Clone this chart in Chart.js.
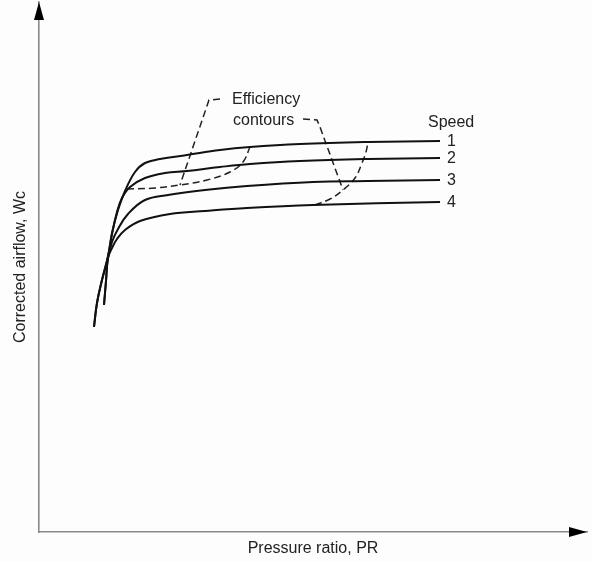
<!DOCTYPE html>
<html>
<head>
<meta charset="utf-8">
<script src="https://cdn.jsdelivr.net/npm/chart.js@4"></script>
<style>
  body { margin: 0; background: #fdfdfd; }
  #wrap { width: 592px; height: 562px; }
</style>
</head>
<body>
<div id="wrap"><canvas id="myChart"></canvas></div>
<script>
// speed lines (pressure ratio, corrected airflow) - schematic units
const speed1X = [11, 11.6, 12.6, 13.8, 14.6, 15.8, 17.2, 19.2, 21.2, 24.2, 29.6, 36.2, 42.2, 52.2, 65.8, 80.2];
const speed1Y = [41, 45.8, 50.4, 55, 59.8, 64.4, 68.2, 72, 73.8, 74.6, 75.4, 76.4, 77, 77.6, 78, 78.2];
const speed2X = [11, 11.6, 12.6, 13.8, 14.6, 15.6, 16.6, 18.2, 21.2, 25.2, 29.6, 36.2, 42.2, 52.2, 65.8, 80.2];
const speed2Y = [41, 45.8, 50.4, 55.2, 59.6, 64, 66.8, 69, 70.8, 71.8, 72.2, 73, 73.6, 74.2, 74.6, 74.8];
const speed3X = [13, 13.4, 13.8, 14.6, 15.8, 17.8, 21.2, 25.8, 33.2, 41.6, 54.8, 65.8, 80.2];
const speed3Y = [45.4, 50.2, 54.8, 58, 60.6, 63.6, 66.4, 67.4, 68.4, 69.2, 70, 70.2, 70.4];
const speed4X = [13, 13.4, 13.8, 14.6, 15.6, 17.2, 20.2, 26.2, 33.2, 41.6, 54.8, 80.2];
const speed4Y = [45.4, 50.2, 54.8, 56.8, 58.6, 60.4, 62.2, 63.6, 64.2, 64.8, 65.4, 66];

// efficiency contours and their leader lines
const contourAX = [17.6, 23.2, 28.2, 33.6, 38.2, 40.8, 42.2];
const contourAY = [68.6, 68.8, 69.4, 70.4, 72, 74, 77];
const contourBX = [55.2, 58.2, 60.8, 63.2, 64.6, 65.4, 65.8];
const contourBY = [65.4, 66.6, 68.4, 70.8, 73.8, 76, 78];
const leaderAX = [36.2, 34, 28.2];
const leaderAY = [86.6, 86.4, 69.4];
const leaderBX = [52.8, 55.6, 56.2, 60.8];
const leaderBY = [82.6, 82.4, 81, 68.4];

const speedNames = ["1", "2", "3", "4"];
const notes = [
  { text: "Efficiency", x: 38.6, y: 85.6 },
  { text: "contours", x: 38.8, y: 81.4 },
  { text: "Speed", x: 77.8, y: 81 }
];

function pts(xs, ys) {
  return xs.map((x, i) => ({ x: x, y: ys[i] }));
}

const speeds = [
  pts(speed1X, speed1Y),
  pts(speed2X, speed2Y),
  pts(speed3X, speed3Y),
  pts(speed4X, speed4Y)
];

let datasets = speeds.map((d, i) => ({
  label: "Speed " + speedNames[i],
  data: d,
  borderColor: "#111",
  borderWidth: 2,
  tension: 0.4,
  pointRadius: 0
}));

[[contourAX, contourAY, 0.4], [contourBX, contourBY, 0.4], [leaderAX, leaderAY, 0], [leaderBX, leaderBY, 0]].forEach(c => {
  datasets.push({
    label: "Efficiency contour",
    data: pts(c[0], c[1]),
    borderColor: "#222",
    borderWidth: 1.5,
    borderDash: [7, 4],
    tension: c[2],
    pointRadius: 0
  });
});

const font = { family: "'Liberation Sans', Arial, sans-serif", size: 16 };

const annotate = {
  id: "annotate",
  afterDraw(chart) {
    let ctx = chart.ctx;
    let xs = chart.scales.x;
    let ys = chart.scales.y;
    let area = chart.chartArea;
    ctx.save();
    // axis arrow heads
    ctx.fillStyle = "#000";
    ctx.beginPath();
    ctx.moveTo(area.left, area.top);
    ctx.lineTo(area.left - 5, area.top + 18);
    ctx.lineTo(area.left + 5, area.top + 18);
    ctx.closePath();
    ctx.fill();
    ctx.beginPath();
    ctx.moveTo(area.right, area.bottom);
    ctx.lineTo(area.right - 18, area.bottom - 5);
    ctx.lineTo(area.right - 18, area.bottom + 5);
    ctx.closePath();
    ctx.fill();
    // texts
    ctx.fillStyle = "#222";
    ctx.font = "16px " + font.family;
    ctx.textAlign = "left";
    ctx.textBaseline = "alphabetic";
    notes.forEach(n => {
      ctx.fillText(n.text, xs.getPixelForValue(n.x), ys.getPixelForValue(n.y));
    });
    ctx.textBaseline = "middle";
    speeds.forEach((d, i) => {
      let last = d[d.length - 1];
      ctx.fillText(speedNames[i], xs.getPixelForValue(last.x) + 7, ys.getPixelForValue(last.y) + 1);
    });
    ctx.restore();
  }
};

let ctx = document.getElementById("myChart").getContext("2d");
let chart = new Chart(ctx, {
  type: "line",
  data: { datasets: datasets },
  options: {
    responsive: true,
    maintainAspectRatio: false,
    animation: false,
    layout: { padding: { top: 2, right: 5, left: 0, bottom: 0 } },
    plugins: { legend: { display: false }, tooltip: { enabled: false } },
    scales: {
      x: {
        type: "linear",
        min: 0,
        max: 109.6,
        grid: { display: false },
        ticks: { display: false },
        border: { display: true, color: "#8a8a8a", width: 1.6 },
        title: { display: true, text: "Pressure ratio, PR", color: "#222", font: font, padding: { top: 0, bottom: 4 } },
        afterFit: s => { s.height = 30; }
      },
      y: {
        type: "linear",
        min: 0,
        max: 106,
        grid: { display: false },
        ticks: { display: false },
        border: { display: true, color: "#8a8a8a", width: 1.6 },
        title: { display: true, text: "Corrected airflow, Wc", color: "#222", font: font, padding: { top: 11, bottom: 0 } },
        afterFit: s => { s.width = 39; }
      }
    }
  },
  plugins: [annotate]
});
</script>
</body>
</html>
